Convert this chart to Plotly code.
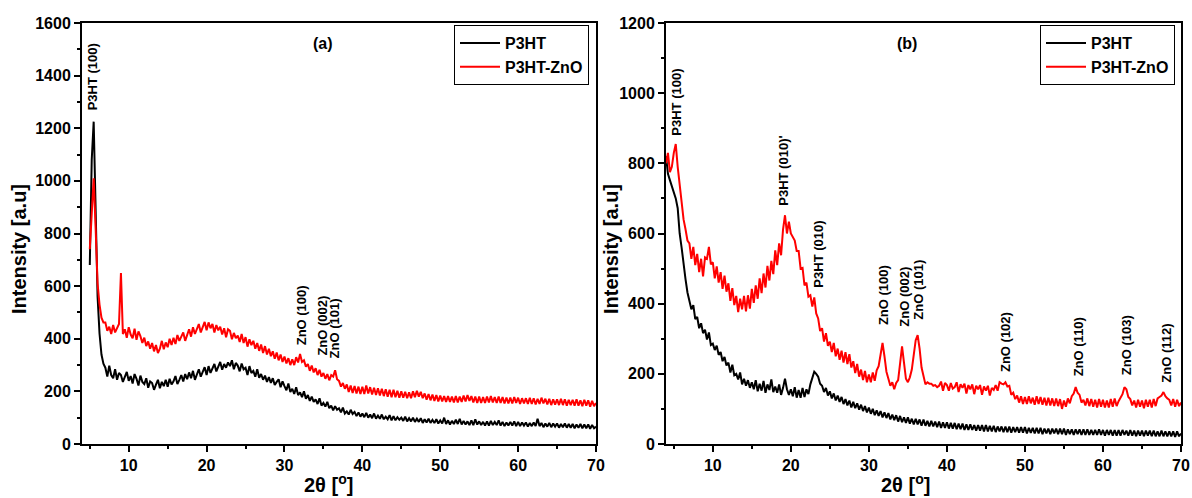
import numpy as np
import plotly.graph_objects as go

# scan grid (step 0.25 deg)
two_theta_a = np.round(np.arange(5.0, 70.001, 0.25), 2)
two_theta_b = np.round(np.arange(4.0, 70.001, 0.25), 2)

p3ht_a = [
    680, 1080, 1225, 900, 560, 420, 340, 305, 290, 256, 298, 262, 250, 284, 244, 270,
    262, 236, 252, 274, 240, 258, 230, 266, 248, 222, 260, 236, 228, 250, 214, 238,
    232, 206, 226, 244, 212, 236, 220, 244, 218, 248, 226, 238, 258, 228, 244, 262,
    238, 266, 246, 272, 250, 278, 244, 268, 284, 256, 274, 292, 262, 296, 270, 288,
    304, 276, 296, 312, 282, 304, 290, 310, 296, 318, 284, 308, 298, 276, 306, 284,
    290, 262, 296, 270, 278, 256, 284, 252, 266, 244, 260, 236, 254, 232, 250, 224,
    236, 246, 216, 238, 220, 204, 230, 198, 210, 190, 216, 186, 196, 178, 200, 172,
    186, 164, 180, 160, 170, 152, 174, 146, 156, 142, 160, 136, 146, 128, 144, 130,
    136, 120, 138, 116, 124, 112, 130, 114, 122, 106, 120, 104, 116, 102, 118, 100,
    112, 98, 116, 96, 108, 96, 112, 94, 104, 94, 110, 90, 106, 90, 102, 92,
    100, 88, 104, 86, 98, 86, 100, 84, 96, 84, 98, 80, 94, 82, 96, 80,
    92, 80, 94, 78, 90, 78, 100, 76, 90, 74, 88, 76, 92, 76, 96, 74,
    88, 74, 86, 72, 90, 72, 94, 74, 86, 72, 84, 70, 86, 70, 88, 72,
    84, 72, 90, 70, 84, 68, 82, 70, 84, 70, 86, 68, 84, 68, 82, 70,
    82, 66, 80, 68, 82, 68, 96, 68, 80, 64, 78, 66, 80, 64, 78, 66,
    78, 62, 76, 64, 78, 62, 76, 62, 76, 60, 74, 62, 76, 60, 74, 60,
    74, 58, 72, 60, 66,
]

p3ht_zno_a = [
    740, 900, 1010, 820, 610, 530, 480, 462, 462, 430, 446, 418, 452, 424, 440, 456,
    650, 418, 436, 404, 444, 416, 402, 438, 396, 428, 410, 384, 404, 372, 390, 362,
    384, 352, 376, 346, 362, 392, 360, 386, 368, 400, 376, 404, 380, 414, 392, 410,
    424, 392, 412, 436, 408, 444, 418, 436, 456, 424, 446, 464, 432, 462, 440, 456,
    424, 452, 432, 446, 416, 440, 406, 436, 430, 398, 422, 402, 412, 388, 418, 384,
    406, 370, 398, 376, 392, 362, 384, 354, 378, 346, 372, 340, 362, 334, 352, 324,
    348, 318, 340, 312, 332, 306, 326, 300, 322, 300, 330, 310, 342, 312, 318, 294,
    304, 278, 298, 272, 288, 262, 282, 256, 270, 248, 266, 242, 262, 256, 280, 246,
    240, 218, 232, 210, 226, 198, 222, 194, 220, 192, 218, 190, 218, 190, 222, 192,
    216, 188, 214, 186, 212, 184, 210, 182, 208, 180, 206, 178, 206, 178, 202, 176,
    200, 176, 198, 174, 196, 174, 200, 178, 202, 180, 198, 174, 192, 168, 190, 166,
    188, 164, 186, 162, 184, 162, 182, 160, 182, 160, 180, 158, 182, 158, 180, 160,
    184, 162, 186, 164, 182, 158, 180, 156, 180, 156, 178, 156, 180, 158, 182, 158,
    178, 156, 180, 156, 178, 154, 176, 154, 176, 154, 178, 156, 176, 152, 174, 154,
    174, 152, 176, 152, 174, 150, 172, 152, 176, 154, 172, 150, 172, 148, 170, 150,
    170, 148, 172, 148, 170, 146, 168, 148, 168, 146, 170, 146, 166, 144, 168, 146,
    166, 142, 164, 144, 156,
]

p3ht_b = [
    820, 770, 752, 734, 716, 700, 672, 600, 560, 505, 470, 432, 412, 384, 396, 356,
    362, 330, 344, 316, 326, 298, 318, 282, 286, 268, 280, 254, 262, 236, 248, 224,
    232, 204, 226, 196, 200, 184, 204, 170, 186, 166, 182, 160, 176, 156, 182, 150,
    172, 152, 180, 146, 170, 154, 184, 148, 164, 146, 170, 140, 160, 186, 156, 140,
    156, 136, 162, 132, 154, 132, 160, 134, 156, 142, 170, 188, 206, 200, 192, 172,
    166, 148, 160, 138, 150, 130, 144, 124, 138, 120, 134, 114, 128, 110, 124, 104,
    120, 102, 116, 98, 112, 94, 108, 90, 104, 86, 100, 82, 96, 80, 94, 76,
    90, 74, 88, 70, 84, 68, 82, 64, 80, 62, 76, 60, 76, 58, 72, 56,
    72, 56, 70, 52, 70, 52, 66, 50, 66, 50, 64, 48, 64, 46, 62, 46,
    62, 44, 60, 44, 60, 42, 58, 42, 58, 40, 56, 40, 56, 40, 54, 38,
    54, 38, 54, 36, 54, 36, 52, 36, 52, 34, 50, 36, 50, 34, 50, 34,
    50, 32, 48, 34, 48, 32, 48, 32, 48, 30, 46, 32, 46, 30, 46, 30,
    46, 28, 44, 30, 44, 28, 44, 30, 44, 28, 44, 28, 44, 26, 42, 28,
    42, 26, 42, 28, 42, 26, 42, 26, 42, 26, 40, 26, 40, 26, 42, 26,
    40, 24, 40, 26, 40, 24, 40, 24, 40, 24, 40, 26, 38, 24, 40, 24,
    38, 22, 38, 24, 38, 22, 38, 24, 38, 22, 38, 22, 36, 22, 38, 22,
    36, 22, 36, 22, 36, 20, 36, 22, 30,
]

p3ht_zno_b = [
    800, 830, 775, 790, 830, 855, 790, 735, 690, 640, 612, 580, 572, 528, 562, 510,
    542, 490, 528, 478, 532, 528, 562, 512, 518, 472, 506, 460, 490, 442, 480, 434,
    458, 408, 444, 396, 422, 376, 414, 384, 422, 378, 424, 386, 442, 402, 452, 414,
    472, 430, 486, 446, 508, 466, 522, 484, 552, 510, 572, 538, 612, 652, 600, 634,
    600, 590, 580, 550, 550, 500, 502, 452, 460, 420, 424, 392, 418, 372, 358, 322,
    330, 292, 316, 280, 292, 262, 288, 250, 272, 240, 266, 232, 262, 228, 256, 218,
    236, 202, 228, 192, 212, 182, 208, 176, 198, 176, 204, 180, 210, 222, 262, 288,
    250, 206, 186, 166, 176, 156, 174, 182, 230, 278, 232, 186, 176, 190, 212, 262,
    296, 310, 272, 218, 190, 170, 176, 172, 172, 166, 168, 162, 166, 178, 152, 174,
    168, 152, 174, 158, 162, 176, 148, 170, 160, 172, 144, 168, 156, 170, 142, 166,
    156, 168, 140, 164, 152, 166, 138, 160, 154, 168, 152, 176, 172, 170, 176, 164,
    166, 140, 146, 128, 138, 118, 136, 114, 134, 114, 136, 116, 132, 112, 136, 114,
    134, 112, 132, 110, 132, 110, 130, 108, 130, 108, 128, 100, 124, 106, 130, 116,
    136, 144, 162, 146, 140, 118, 126, 110, 130, 108, 128, 106, 126, 104, 128, 106,
    126, 104, 124, 104, 128, 106, 130, 108, 122, 132, 142, 162, 156, 134, 128, 110,
    124, 104, 126, 106, 124, 102, 126, 106, 126, 104, 128, 108, 130, 134, 138, 148,
    136, 130, 126, 110, 128, 106, 126, 108, 118,
]

# peak labels: (text, 2theta, intensity at label base)
labels_a = [("P3HT (100)", 5.4, 1262), ("ZnO (100)", 32.3, 369),
            ("ZnO (002)", 34.9, 327), ("ZnO (101)", 36.4, 319)]
labels_b = [("P3HT (100)", 5.3, 872), ("P3HT (010)'", 19.1, 673),
            ("P3HT (010)", 23.5, 439), ("ZnO (100)", 31.8, 333),
            ("ZnO (002)", 34.6, 328), ("ZnO (101)", 36.4, 348),
            ("ZnO (102)", 47.6, 200), ("ZnO (110)", 56.9, 188),
            ("ZnO (103)", 63.1, 191), ("ZnO (112)", 68.1, 168)]

FONT = "Liberation Sans, Arial, sans-serif"
W, H = 1192, 498
LW = 2.0

fig = go.Figure()
fig.add_trace(go.Scatter(x=two_theta_a, y=p3ht_a, mode="lines", name="P3HT",
                         line=dict(color="black", width=LW), xaxis="x", yaxis="y",
                         legend="legend"))
fig.add_trace(go.Scatter(x=two_theta_a, y=p3ht_zno_a, mode="lines", name="P3HT-ZnO",
                         line=dict(color="#ff0000", width=LW), xaxis="x", yaxis="y",
                         legend="legend"))
fig.add_trace(go.Scatter(x=two_theta_b, y=p3ht_b, mode="lines", name="P3HT",
                         line=dict(color="black", width=LW), xaxis="x2", yaxis="y2",
                         legend="legend2"))
fig.add_trace(go.Scatter(x=two_theta_b, y=p3ht_zno_b, mode="lines", name="P3HT-ZnO",
                         line=dict(color="#ff0000", width=LW), xaxis="x2", yaxis="y2",
                         legend="legend2"))


def xaxis(dom, anchor):
    return dict(domain=dom, anchor=anchor, range=[4, 70], tick0=0, dtick=10,
                showline=True, linecolor="black", linewidth=2, mirror=True,
                ticks="outside", ticklen=6, tickwidth=2, tickcolor="black",
                minor=dict(dtick=5, ticks="outside", ticklen=3, tickwidth=2,
                           tickcolor="black"),
                showgrid=False, zeroline=False, automargin=False,
                tickfont=dict(family=FONT, size=16, color="black", weight="bold"))


def yaxis(dom, anchor, top):
    return dict(domain=dom, anchor=anchor, range=[0, top], tick0=0, dtick=200,
                showline=True, linecolor="black", linewidth=2, mirror=True,
                ticks="outside", ticklen=6, tickwidth=2, tickcolor="black",
                minor=dict(dtick=100, ticks="outside", ticklen=3, tickwidth=2,
                           tickcolor="black"),
                showgrid=False, zeroline=False, automargin=False,
                tickfont=dict(family=FONT, size=16, color="black", weight="bold"))


ydom = [1 - 444 / H, 1 - 23 / H]
legend_style = dict(bgcolor="white", bordercolor="black", borderwidth=1,
                    font=dict(family=FONT, size=16, color="black", weight="bold"),
                    xanchor="right", yanchor="top", tracegroupgap=0,
                    itemwidth=40)

fig.update_layout(
    width=W, height=H, autosize=False, margin=dict(l=0, r=0, t=0, b=0, pad=0),
    paper_bgcolor="white", plot_bgcolor="white",
    xaxis=xaxis([82 / W, 596 / W], "y"),
    yaxis=yaxis(ydom, "x", 1600),
    xaxis2=xaxis([666 / W, 1181 / W], "y2"),
    yaxis2=yaxis(ydom, "x2", 1200),
    legend=dict(x=589 / W, y=1 - 25 / H, **legend_style),
    legend2=dict(x=1175 / W, y=1 - 25 / H, **legend_style),
)

anns = []
for txt, xv, yv in labels_a:
    anns.append(dict(x=xv, y=yv, xref="x", yref="y", text=txt, showarrow=False,
                     textangle=-90, xanchor="center", yanchor="bottom",
                     font=dict(family=FONT, size=13, color="black", weight="bold")))
for txt, xv, yv in labels_b:
    anns.append(dict(x=xv, y=yv, xref="x2", yref="y2", text=txt, showarrow=False,
                     textangle=-90, xanchor="center", yanchor="bottom",
                     font=dict(family=FONT, size=13, color="black", weight="bold")))


def paper_text(px, py, txt, size, angle=0, yanchor="middle"):
    return dict(x=px / W, y=1 - py / H, xref="paper", yref="paper", text=txt,
                textangle=angle, showarrow=False, xanchor="center", yanchor=yanchor,
                font=dict(family=FONT, size=size, color="black", weight="bold"))


anns += [
    paper_text(323, 44, "(a)", 16),
    paper_text(907, 44, "(b)", 16),
    paper_text(19, 249, "Intensity [a.u]", 20, angle=-90),
    paper_text(611, 249, "Intensity [a.u]", 20, angle=-90),
    paper_text(328, 498, "2θ [<sup>o</sup>]", 20, yanchor="bottom"),
    paper_text(905, 498, "2θ [<sup>o</sup>]", 20, yanchor="bottom"),
]
fig.update_layout(annotations=anns)

# the page's default 8px body margin would shift the figure
fig.write_html("out.html", config={"displayModeBar": False},
               post_script="document.body.style.margin='0';")
